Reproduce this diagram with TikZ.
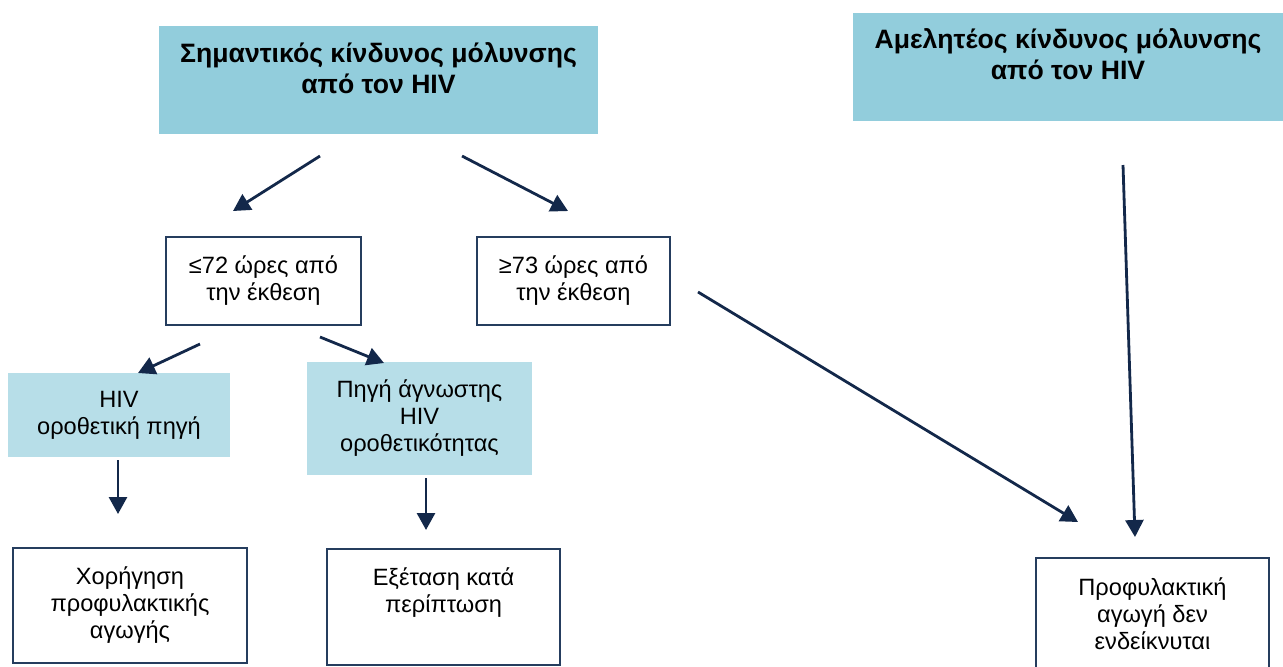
\documentclass[tikz,border=0pt]{standalone}
\usepackage{fontspec}
\setmainfont{Liberation Sans}
\usetikzlibrary{arrows.meta}
\definecolor{aqua}{HTML}{92CDDC}
\definecolor{softaqua}{HTML}{B7DEE8}
\definecolor{edge}{HTML}{253D5E}
\definecolor{navy}{HTML}{13284A}
\tikzset{
  box/.style={
    rectangle, draw=edge, fill=white, line width=1pt,
    inner sep=0pt, outer sep=0pt, anchor=north west,
    align=center, font=\fontsize{11.8}{13.5}\selectfont
  },
  softbox/.style={box, draw=none, fill=softaqua},
  headbox/.style={box, draw=none, fill=aqua, font=\fontsize{13.3}{15.5}\selectfont\bfseries},
  arrow/.style={-{Triangle[length=8.5pt,width=9pt]}, line width=1.4pt, draw=navy},
}

\begin{document}
\begin{tikzpicture}[x=0.5pt, y=-0.5pt]
  \useasboundingbox (0,0) rectangle (1283,666);

  \node[headbox, minimum width=219.5pt, text height=33.5pt, text depth=20.5pt] (signif) at (159,26)
    {Σημαντικός κίνδυνος μόλυνσης\\από τον HIV};
  \node[headbox, minimum width=215pt, text height=33pt, text depth=21pt] (neglig) at (853,13)
    {Αμελητέος κίνδυνος μόλυνσης\\από τον HIV};

  \node[box, minimum width=97.5pt, minimum height=44pt] (early) at (166,237) {≤72 ώρες από\\την έκθεση};
  \node[box, minimum width=96.5pt, minimum height=44pt] (late) at (477,237) {≥73 ώρες από\\την έκθεση};

  \node[softbox, minimum width=111pt, minimum height=42pt] (known) at (8,373) {HIV\\οροθετική πηγή};
  \node[softbox, minimum width=112.5pt, minimum height=56.5pt] (unknown) at (307,362)
    {Πηγή άγνωστης\\HIV\\οροθετικότητας};

  \node[box, minimum width=117pt, minimum height=57.5pt] (give) at (13,548)
    {Χορήγηση\\προφυλακτικής\\αγωγής};
  \node[box, minimum width=116.5pt, text height=31.5pt, text depth=26.5pt] (exam) at (327,549)
    {Εξέταση κατά\\περίπτωση};
  \node[box, minimum width=116.5pt, minimum height=56pt] (noprop) at (1036,558)
    {Προφυλακτική\\αγωγή δεν\\ενδείκνυται};

  % free arrow ends
  \coordinate (s1) at (320,156);  \coordinate (e1) at (233,211);
  \coordinate (s2) at (462,156);  \coordinate (e2) at (568,211);
  \coordinate (s3) at (200,344);  \coordinate (e3) at (138,373);
  \coordinate (s4) at (320,337);  \coordinate (e4) at (384,363);
  \coordinate (s5) at (118,460);  \coordinate (e5) at (118,514);
  \coordinate (s6) at (426,478);  \coordinate (e6) at (426,530);
  \coordinate (s7) at (698,292);  \coordinate (e7) at (1078,522);
  \coordinate (s8) at (1123,165); \coordinate (e8) at (1135,537);

  \foreach \i in {1,...,8}
    \draw[arrow] (s\i) -- (e\i);
\end{tikzpicture}
\end{document}
